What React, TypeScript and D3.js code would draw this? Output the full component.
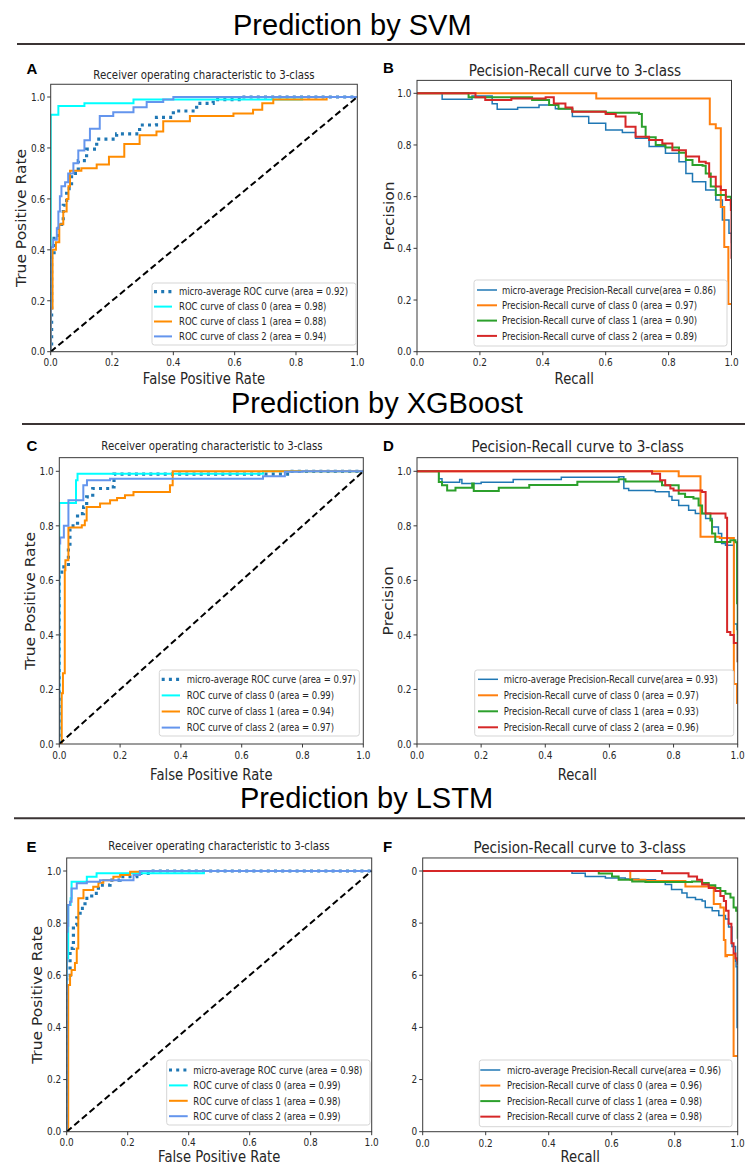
import React from "react";
import * as d3 from "d3";

type Pt = [number, number];

// ---- data ----
const models = ["SVM", "XGBoost", "LSTM"];
const ticks = [0, 0.2, 0.4, 0.6, 0.8, 1.0];
const tickLabels = ["0.0", "0.2", "0.4", "0.6", "0.8", "1.0"];
const lstmPrYTickLabels = ["0", "2", "4", "6", "8", "0"];
const diagonal: Pt[] = [[0, 0], [1, 1]];

const svmRocAreas = [0.92, 0.98, 0.88, 0.94];
const svmPrAreas = [0.86, 0.97, 0.9, 0.89];
const xgbRocAreas = [0.97, 0.99, 0.94, 0.97];
const xgbPrAreas = [0.93, 0.97, 0.93, 0.96];
const lstmRocAreas = [0.98, 0.99, 0.98, 0.99];
const lstmPrAreas = [0.96, 0.96, 0.98, 0.98];

const svmRocMicro: Pt[] = [[0, 0], [0.003, 0.37], [0.011, 0.445], [0.025, 0.5], [0.041, 0.575], [0.052, 0.64], [0.068, 0.7], [0.09, 0.75], [0.117, 0.795], [0.15, 0.835], [0.215, 0.855], [0.29, 0.89], [0.345, 0.92], [0.4, 0.945], [0.476, 0.975], [0.53, 0.99], [0.62, 1.0], [1, 1]];
const svmRocC0: Pt[] = [[0, 0], [0, 0.93], [0.025, 0.965], [0.11, 0.975], [0.27, 0.99], [0.82, 1.0], [1, 1]];
const svmRocC1: Pt[] = [[0, 0], [0, 0.17], [0.006, 0.4], [0.017, 0.43], [0.028, 0.5], [0.041, 0.55], [0.052, 0.6], [0.058, 0.65], [0.063, 0.71], [0.1, 0.72], [0.15, 0.735], [0.19, 0.765], [0.24, 0.815], [0.29, 0.85], [0.345, 0.865], [0.367, 0.905], [0.454, 0.925], [0.596, 0.935], [0.66, 0.95], [0.69, 0.975], [0.726, 0.99], [0.9, 1.0], [1, 1]];
const svmRocC2: Pt[] = [[0, 0], [0, 0.41], [0.008, 0.44], [0.02, 0.485], [0.025, 0.55], [0.03, 0.61], [0.035, 0.65], [0.047, 0.665], [0.057, 0.7], [0.074, 0.74], [0.09, 0.79], [0.11, 0.83], [0.128, 0.875], [0.16, 0.925], [0.204, 0.94], [0.27, 0.96], [0.313, 0.98], [0.367, 0.99], [0.4, 1.0], [1, 1]];

const svmPrMicro: Pt[] = [[0, 1], [0.08, 0.977], [0.175, 0.99], [0.239, 0.96], [0.255, 0.938], [0.32, 0.945], [0.388, 0.955], [0.44, 0.94], [0.494, 0.91], [0.546, 0.884], [0.6, 0.858], [0.653, 0.848], [0.695, 0.826], [0.738, 0.794], [0.79, 0.768], [0.833, 0.735], [0.855, 0.69], [0.876, 0.658], [0.918, 0.626], [0.95, 0.587], [0.971, 0.51], [0.992, 0.458], [1.0, 0.42]];
const svmPrC0: Pt[] = [[0, 1], [0.57, 0.98], [0.931, 0.88], [0.95, 0.865], [0.966, 0.56], [0.977, 0.405], [0.99, 0.185], [1.0, 0.185]];
const svmPrC1: Pt[] = [[0, 1], [0.164, 0.985], [0.366, 0.974], [0.42, 0.955], [0.45, 0.94], [0.494, 0.93], [0.6, 0.925], [0.706, 0.92], [0.715, 0.871], [0.727, 0.83], [0.759, 0.8], [0.79, 0.79], [0.833, 0.77], [0.855, 0.742], [0.876, 0.723], [0.908, 0.72], [0.918, 0.69], [0.934, 0.639], [0.95, 0.606], [0.982, 0.6], [0.998, 0.57], [1.0, 0.55]];
const svmPrC2: Pt[] = [[0, 1], [0.186, 0.985], [0.217, 0.974], [0.3, 0.98], [0.409, 0.985], [0.435, 0.961], [0.472, 0.945], [0.494, 0.929], [0.6, 0.92], [0.632, 0.91], [0.663, 0.871], [0.695, 0.832], [0.738, 0.819], [0.78, 0.806], [0.812, 0.78], [0.855, 0.755], [0.897, 0.735], [0.918, 0.729], [0.929, 0.677], [0.95, 0.639], [0.966, 0.626], [0.982, 0.587], [0.998, 0.548], [1.0, 0.36]];

const xgbRocMicro: Pt[] = [[0, 0], [0, 0.63], [0.015, 0.65], [0.03, 0.72], [0.035, 0.8], [0.06, 0.845], [0.08, 0.87], [0.09, 0.906], [0.11, 0.937], [0.167, 0.943], [0.18, 0.99], [0.76, 1.0], [1, 1]];
const xgbRocC0: Pt[] = [[0, 0], [0, 0.884], [0.055, 0.967], [0.06, 0.991], [0.67, 1.0], [1, 1]];
const xgbRocC1: Pt[] = [[0, 0], [0.008, 0.076], [0.008, 0.186], [0.012, 0.259], [0.018, 0.637], [0.02, 0.674], [0.03, 0.794], [0.074, 0.802], [0.084, 0.82], [0.09, 0.869], [0.134, 0.882], [0.167, 0.894], [0.19, 0.902], [0.216, 0.912], [0.244, 0.924], [0.364, 0.949], [0.373, 1.0], [1, 1]];
const xgbRocC2: Pt[] = [[0, 0], [0, 0.735], [0.003, 0.757], [0.015, 0.8], [0.03, 0.894], [0.079, 0.949], [0.091, 0.967], [0.167, 0.973], [0.67, 0.982], [0.742, 0.998], [0.8, 1.0], [1, 1]];

const xgbPrMicro: Pt[] = [[0, 1], [0.068, 0.973], [0.078, 0.96], [0.133, 0.97], [0.14, 0.955], [0.2, 0.96], [0.3, 0.97], [0.45, 0.978], [0.63, 0.98], [0.645, 0.937], [0.66, 0.93], [0.743, 0.925], [0.786, 0.908], [0.795, 0.894], [0.816, 0.875], [0.847, 0.857], [0.868, 0.845], [0.9, 0.827], [0.92, 0.796], [0.94, 0.772], [0.95, 0.735], [0.962, 0.729], [0.988, 0.44], [0.998, 0.42], [1.0, 0.4]];
const xgbPrC0: Pt[] = [[0, 1], [0.816, 0.982], [0.884, 0.76], [0.944, 0.755], [0.988, 0.22], [0.998, 0.15], [1, 0.15]];
const xgbPrC1: Pt[] = [[0, 1], [0.068, 0.961], [0.078, 0.949], [0.094, 0.93], [0.12, 0.94], [0.172, 0.955], [0.177, 0.928], [0.255, 0.94], [0.35, 0.95], [0.5, 0.962], [0.629, 0.971], [0.65, 0.963], [0.754, 0.963], [0.764, 0.949], [0.816, 0.918], [0.836, 0.906], [0.862, 0.9], [0.878, 0.875], [0.889, 0.845], [0.915, 0.82], [0.92, 0.772], [0.93, 0.741], [0.977, 0.747], [0.993, 0.74], [0.998, 0.516], [1, 0.3]];
const xgbPrC2: Pt[] = [[0, 1], [0.733, 0.991], [0.758, 0.967], [0.774, 0.949], [0.79, 0.937], [0.8, 0.93], [0.889, 0.924], [0.9, 0.845], [0.962, 0.83], [0.967, 0.411], [0.977, 0.4], [0.988, 0.37], [1, 0.3]];

const lstmRocMicro: Pt[] = [[0, 0], [0, 0.6], [0.011, 0.703], [0.022, 0.793], [0.033, 0.82], [0.044, 0.857], [0.06, 0.895], [0.082, 0.914], [0.104, 0.946], [0.142, 0.965], [0.175, 0.978], [0.23, 0.991], [0.273, 1.0], [1, 1]];
const lstmRocC0: Pt[] = [[0, 0], [0, 0.665], [0.005, 0.87], [0.013, 0.895], [0.016, 0.959], [0.066, 0.978], [0.098, 0.991], [0.45, 1.0], [1, 1]];
const lstmRocC1: Pt[] = [[0, 0], [0.005, 0.563], [0.011, 0.6], [0.016, 0.62], [0.027, 0.647], [0.033, 0.703], [0.038, 0.895], [0.055, 0.927], [0.087, 0.94], [0.104, 0.955], [0.12, 0.965], [0.153, 0.978], [0.175, 0.985], [0.208, 0.997], [0.24, 1.0], [1, 1]];
const lstmRocC2: Pt[] = [[0, 0], [0, 0.767], [0.003, 0.79], [0.005, 0.87], [0.011, 0.882], [0.016, 0.933], [0.033, 0.953], [0.066, 0.959], [0.109, 0.965], [0.219, 0.985], [0.24, 1.0], [1, 1]];

const lstmPrMicro: Pt[] = [[0, 1], [0.474, 0.991], [0.516, 0.979], [0.58, 0.973], [0.643, 0.969], [0.686, 0.966], [0.739, 0.96], [0.77, 0.948], [0.79, 0.929], [0.823, 0.916], [0.839, 0.898], [0.866, 0.891], [0.887, 0.885], [0.897, 0.86], [0.919, 0.848], [0.94, 0.829], [0.961, 0.816], [0.971, 0.785], [0.982, 0.71], [0.993, 0.654], [0.995, 0.633], [0.998, 0.4], [1, 0.4]];
const lstmPrC0: Pt[] = [[0, 1], [0.659, 0.966], [0.707, 0.962], [0.834, 0.941], [0.924, 0.873], [0.945, 0.86], [0.956, 0.735], [0.961, 0.673], [0.966, 0.678], [0.987, 0.62], [0.987, 0.29], [1, 0.29]];
const lstmPrC1: Pt[] = [[0, 1], [0.559, 0.99], [0.601, 0.979], [0.622, 0.966], [0.665, 0.96], [0.707, 0.958], [0.855, 0.96], [0.887, 0.954], [0.908, 0.945], [0.929, 0.935], [0.945, 0.923], [0.961, 0.913], [0.977, 0.898], [0.987, 0.86], [0.995, 0.848], [1.0, 0.74]];
const lstmPrC2: Pt[] = [[0, 1], [0.76, 0.991], [0.844, 0.979], [0.871, 0.966], [0.887, 0.948], [0.908, 0.935], [0.929, 0.923], [0.945, 0.904], [0.956, 0.885], [0.963, 0.848], [0.971, 0.798], [0.98, 0.723], [0.987, 0.684], [0.993, 0.665], [0.998, 0.658], [1, 0.64]];

// ---- styles ----
const rocStyles = [
  { color: "#1f77b4", width: 3.2, dash: "3,4.2" },
  { color: "#00ffff", width: 2 },
  { color: "#ff8c00", width: 2 },
  { color: "#6495ed", width: 2 },
];
const prStyles = [
  { color: "#1f77b4", width: 1.5 },
  { color: "#ff7f0e", width: 2 },
  { color: "#2ca02c", width: 2 },
  { color: "#d62728", width: 2 },
];

const MPL = "DejaVu Sans, Verdana, sans-serif";
const ARIAL = "Liberation Sans, Arial, Helvetica, sans-serif";
const SQ = 0.85; // horizontal squeeze of the source image

const rocLabels = (a: number[]) => [
  `micro-average ROC curve (area = ${a[0].toFixed(2)})`,
  `ROC curve of class 0 (area = ${a[1].toFixed(2)})`,
  `ROC curve of class 1 (area = ${a[2].toFixed(2)})`,
  `ROC curve of class 2 (area = ${a[3].toFixed(2)})`,
];
const prLabels = (a: number[]) => [
  `micro-average Precision-Recall curve(area = ${a[0].toFixed(2)})`,
  `Precision-Recall curve of class 0 (area = ${a[1].toFixed(2)})`,
  `Precision-Recall curve of class 1 (area = ${a[2].toFixed(2)})`,
  `Precision-Recall curve of class 2 (area = ${a[3].toFixed(2)})`,
];

function T({ x, y, size, children, anchor = "middle", sx = SQ, rot = false, family = MPL, weight = "normal", fill = "#262626" }: any) {
  const tf = `translate(${x},${y}) scale(${sx},1)` + (rot ? " rotate(-90)" : "");
  return (
    <text transform={tf} textAnchor={anchor} dominantBaseline="central"
      fontSize={size} fontFamily={family} fontWeight={weight} fill={fill}>{children}</text>
  );
}

function Panel({ id, g, kind, series, labels, letter, yTickLabels }: any) {
  const x = d3.scaleLinear().domain([0, 1]).range([g.left, g.right]);
  const y = d3.scaleLinear().domain([0, 1]).range([g.y0, g.y1]);
  const top = y(1.05);
  const line = d3.line<Pt>().x(d => x(d[0])).y(d => y(d[1])).curve(d3.curveStepAfter);
  const straight = d3.line<Pt>().x(d => x(d[0])).y(d => y(d[1]));
  const styles = kind === "roc" ? rocStyles : prStyles;
  const title = kind === "roc" ? "Receiver operating characteristic to 3-class" : "Pecision-Recall curve to 3-class";
  const lg = g.legend;
  const cx = (g.left + g.right) / 2;
  const axisColor = "#3a3a3a";
  return (
    <g>
      <defs>
        <clipPath id={`clip-${id}`}>
          <rect x={g.left} y={top} width={g.right - g.left} height={g.y0 - top} />
        </clipPath>
      </defs>
      <T x={g.letterX} y={g.letterY} size={15} anchor="start" sx={1} family={ARIAL} weight="bold" fill="#000">{letter}</T>
      <T x={g.titleX} y={g.titleY} size={kind === "roc" ? 12 : 16}>{title}</T>
      <g clipPath={`url(#clip-${id})`}>
        {series.map((s: Pt[], i: number) => (
          <path key={i} d={line(s) || ""} fill="none" stroke={styles[i].color}
            strokeWidth={styles[i].width} strokeDasharray={(styles[i] as any).dash} />
        ))}
        {kind === "roc" && (
          <path d={straight(diagonal) || ""} fill="none" stroke="#000" strokeWidth={2} strokeDasharray="6.5,3.5" />
        )}
      </g>
      <rect x={g.left} y={top} width={g.right - g.left} height={g.y0 - top} fill="none" stroke={axisColor} strokeWidth={1} />
      {ticks.map((t, i) => (
        <g key={`x${i}`}>
          <line x1={x(t)} x2={x(t)} y1={g.y0} y2={g.y0 + 3.5} stroke={axisColor} />
          <T x={x(t)} y={g.tickY} size={10.5}>{tickLabels[i]}</T>
        </g>
      ))}
      {ticks.map((t, i) => (
        <g key={`y${i}`}>
          <line x1={g.left - 3.5} x2={g.left} y1={y(t)} y2={y(t)} stroke={axisColor} />
          <T x={g.left - 5.5} y={y(t)} size={10.5} anchor="end">{(yTickLabels || tickLabels)[i]}</T>
        </g>
      ))}
      <T x={cx} y={g.xLabelY} size={15.5}>{kind === "roc" ? "False Positive Rate" : "Recall"}</T>
      {g.yLabelX != null && (
        <T x={g.yLabelX} y={(top + g.y0) / 2} size={15.5} rot>{kind === "roc" ? "True Positive Rate" : "Precision"}</T>
      )}
      <rect x={lg.x0} y={lg.y0} width={lg.x1 - lg.x0} height={lg.y1 - lg.y0} rx={2.5}
        fill="#fff" fillOpacity={0.85} stroke="#d5d5d5" strokeWidth={1} />
      {labels.map((lab: string, i: number) => {
        const ry = lg.row0 + i * lg.rowStep;
        const st: any = styles[i];
        return (
          <g key={`l${i}`}>
            <line x1={lg.s0} x2={lg.s1} y1={ry} y2={ry} stroke={st.color} strokeWidth={st.width} strokeDasharray={st.dash} />
            <T x={lg.tx} y={ry} size={10} anchor="start">{lab}</T>
          </g>
        );
      })}
    </g>
  );
}

const sections = [
  { x: 233, y: 25, lineY: 44, lineX: 17 },
  { x: 231, y: 403, lineY: 424, lineX: 22 },
  { x: 240, y: 798, lineY: 818.3, lineX: 14 },
];

const panels = [
  {
    id: "A", kind: "roc", series: [svmRocMicro, svmRocC0, svmRocC1, svmRocC2], labels: rocLabels(svmRocAreas),
    g: { left: 50.7, right: 357.3, y1: 97, y0: 351.7, titleX: 204, titleY: 75, letterX: 26.5, letterY: 68, tickY: 362.7, xLabelY: 379, yLabelX: 21,
      legend: { x0: 152, x1: 356, y0: 283, y1: 345, row0: 291.7, rowStep: 14.9, s0: 154, s1: 172, tx: 179 } },
  },
  {
    id: "B", kind: "pr", series: [svmPrMicro, svmPrC0, svmPrC1, svmPrC2], labels: prLabels(svmPrAreas),
    g: { left: 417, right: 731.5, y1: 93.3, y0: 351.7, titleX: 575, titleY: 70, letterX: 383, letterY: 67, tickY: 362.7, xLabelY: 379, yLabelX: 389.5,
      legend: { x0: 474, x1: 727, y0: 280, y1: 346, row0: 290, rowStep: 15.3, s0: 477, s1: 497, tx: 502 } },
  },
  {
    id: "C", kind: "roc", series: [xgbRocMicro, xgbRocC0, xgbRocC1, xgbRocC2], labels: rocLabels(xgbRocAreas),
    g: { left: 59.3, right: 363.3, y1: 471.3, y0: 744, titleX: 212, titleY: 446.7, letterX: 26.5, letterY: 445, tickY: 755.5, xLabelY: 775, yLabelX: 30,
      legend: { x0: 159.3, x1: 359.3, y0: 670, y1: 736, row0: 679.3, rowStep: 16.1, s0: 161.7, s1: 180, tx: 186.7 } },
  },
  {
    id: "D", kind: "pr", series: [xgbPrMicro, xgbPrC0, xgbPrC1, xgbPrC2], labels: prLabels(xgbPrAreas),
    g: { left: 417, right: 737.7, y1: 471.3, y0: 744, titleX: 577.7, titleY: 446, letterX: 383, letterY: 445, tickY: 755.5, xLabelY: 774.3, yLabelX: 388.7,
      legend: { x0: 474.7, x1: 733.7, y0: 670, y1: 736, row0: 679.3, rowStep: 16, s0: 478, s1: 498, tx: 503.7 } },
  },
  {
    id: "E", kind: "roc", series: [lstmRocMicro, lstmRocC0, lstmRocC1, lstmRocC2], labels: rocLabels(lstmRocAreas),
    g: { left: 66.7, right: 371.7, y1: 871, y0: 1131.7, titleX: 219, titleY: 846.7, letterX: 26.5, letterY: 846.7, tickY: 1142.7, xLabelY: 1156.5, yLabelX: 37,
      legend: { x0: 166.7, x1: 370, y0: 1060, y1: 1125, row0: 1070, rowStep: 15.4, s0: 169, s1: 187.7, tx: 193.3 } },
  },
  {
    id: "F", kind: "pr", series: [lstmPrMicro, lstmPrC0, lstmPrC1, lstmPrC2], labels: prLabels(lstmPrAreas), yTickLabels: lstmPrYTickLabels,
    g: { left: 422.7, right: 737.7, y1: 871, y0: 1131.7, titleX: 579.7, titleY: 846.7, letterX: 383, letterY: 846.7, tickY: 1143.3, xLabelY: 1156.5, yLabelX: null,
      legend: { x0: 479.3, x1: 732, y0: 1060, y1: 1126.7, row0: 1070, rowStep: 15.55, s0: 480.3, s1: 500.3, tx: 507 } },
  },
];

export default function App() {
  return (
    <div style={{ position: "absolute", left: 0, top: 0 }}>
      <svg width={745} height={1166} style={{ display: "block", background: "#fff" }}>
        <rect width={745} height={1166} fill="#fff" />
        {sections.map((s, i) => (
          <g key={i}>
            <T x={s.x} y={s.y} size={29} anchor="start" sx={1} family={ARIAL} fill="#000">{`Prediction by ${models[i]}`}</T>
            <line x1={s.lineX} x2={745} y1={s.lineY} y2={s.lineY} stroke="#3b3434" strokeWidth={2} />
          </g>
        ))}
        {panels.map(p => (
          <Panel key={p.id} id={p.id} g={p.g} kind={p.kind} series={p.series} labels={p.labels}
            letter={p.id} yTickLabels={(p as any).yTickLabels} />
        ))}
      </svg>
    </div>
  );
}
